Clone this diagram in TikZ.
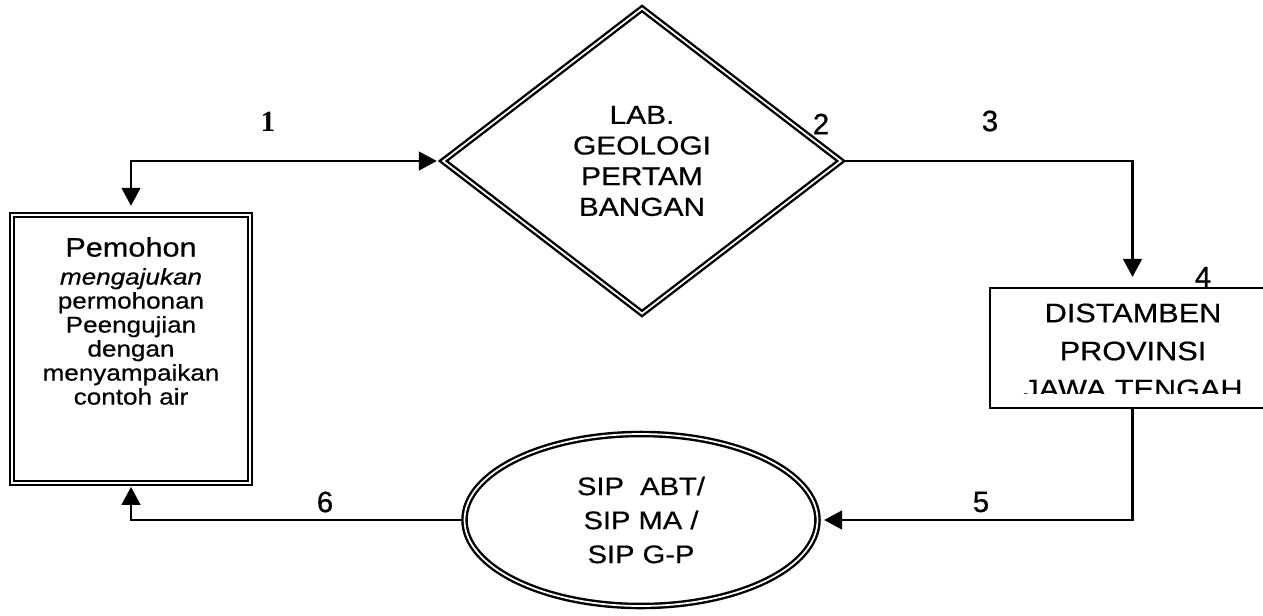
\documentclass[tikz,border=0pt]{standalone}
\usepackage{fontspec}
\setmainfont{Liberation Sans}[FakeStretch=1.15, FakeBold=0.6]
\newfontfamily\numfont{Liberation Sans}[FakeBold=0.8]
\newfontfamily\numserif{Liberation Serif}
\usetikzlibrary{shapes.geometric,arrows.meta}

\begin{document}
\begin{tikzpicture}[x=0.75pt,y=-0.75pt,
  >={Triangle[length=13.5pt,width=14pt]},
  conn/.style={line width=1.8pt},
  dbl/.style={draw, line width=1.8pt, double=white, double distance=1.3pt},
  num/.style={font=\numfont\fontsize{22}{22}\selectfont, inner sep=0pt},
]
\useasboundingbox (0,0) rectangle (1263,615);

% Pemohon box
\node[dbl, rectangle, minimum width=178.5pt, minimum height=201pt] (pem) at (131,349) {};
\node[align=center, inner sep=0pt, font=\fontsize{17}{18}\selectfont] (pemtxt) at (131,321)
  {{\fontsize{20}{20}\selectfont Pemohon}\\[3pt]
   {\itshape mengajukan}\\
   permohonan\\
   Peengujian\\
   dengan\\
   menyampaikan\\
   contoh air};

% Lab diamond
\node[dbl, diamond, minimum width=299pt, minimum height=229.5pt, inner sep=0pt,
      align=center, font=\fontsize{19.5}{23}\selectfont] (lab) at (642,161)
  {LAB.\\GEOLOGI\\PERTAM\\BANGAN};

% SIP ellipse
\node[dbl, ellipse, minimum width=264.75pt, minimum height=129pt, inner sep=0pt,
      align=center, font=\fontsize{19}{25.5}\selectfont] (sip) at (641,520)
  {SIP\ \ ABT/\\SIP MA /\\SIP G-P};

% Distamben box
\node[draw, line width=1.6pt, minimum width=213.75pt, minimum height=90pt] (dis) at (1132.5,348) {};
\begin{scope}
  \clip (990,288) rectangle (1275,393);
  \node[align=center, inner sep=0pt, font=\fontsize{20}{28.5}\selectfont] (distxt) at (1133,351)
    {DISTAMBEN\\PROVINSI\\JAWA TENGAH};
\end{scope}

% connectors
\draw[conn,<->, shorten <=6pt, shorten >=3.5pt] (pem.north) |- (lab.west);
\draw[conn,->, shorten <=2pt, shorten >=7.5pt] (lab.east) -| (dis.north);
\draw[conn,->, shorten >=4pt] (dis.south) |- (sip.east);
\draw[conn,->, shorten >=2pt] (sip.west) -| (pem.south);

% numbers
\node[num] (n1) at (268,122) {\numserif\bfseries 1};
\node[num] (n2) at (821,124) {2};
\node[num] (n3) at (990,121) {3};
\node[num] (n4) at (1203,277) {4};
\node[num] (n5) at (981,502) {5};
\node[num] (n6) at (325,502) {6};
\end{tikzpicture}
\end{document}
